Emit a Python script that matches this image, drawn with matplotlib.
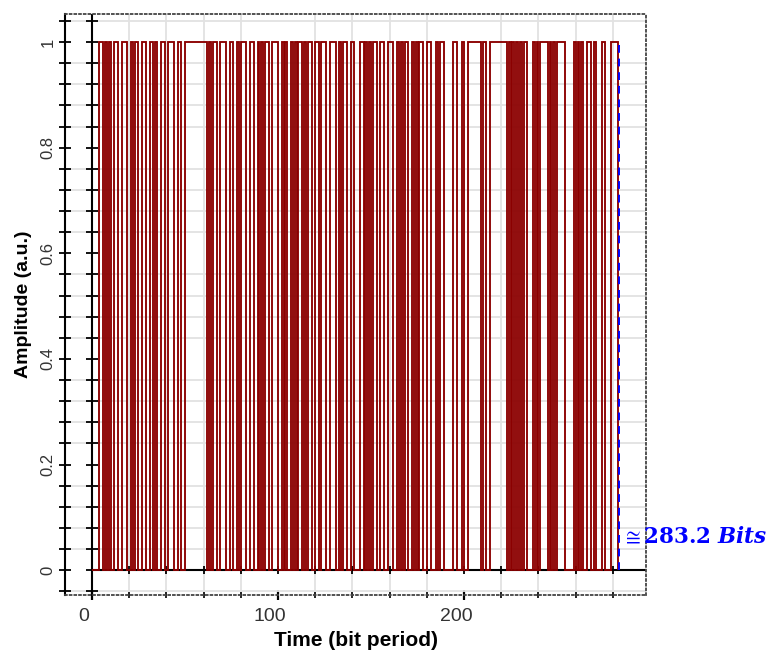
import numpy as np
import matplotlib.pyplot as plt
import matplotlib.transforms as mtransforms

plt.rcParams['font.family'] = ['Liberation Sans', 'DejaVu Sans']
plt.rcParams['mathtext.fontset'] = 'dejavuserif'

# bit sequence (one char per bit period, 283 bits)
bit_string = (
    # bits 0-49
    "0000" "110" "101" "0011" "00" "111" "00101" "100" "11" "00"
    "1101" "0011" "00" "1110" "0110" "0"
    # bits 50-61, long run of ones
    "111111111111"
    # bits 62-112
    "0101" "1001" "1100" "110" "0101" "1100" "110" "01010" "1100"
    "111" "0010" "1001" "01011"
    # bits 113-186
    "0101" "100" "1101" "1100" "1110" "0101" "1001" "1000" "11" "01010"
    "110" "0110" "0111" "001" "0101" "100" "10101" "1001" "1000" "10"
    # bits 187-282
    "110" "0000" "110" "00" "10" "0" "1111111" "0" "110" "0" "111111111"
    "0101010101" "1000" "1010" "1111" "01010" "1111" "00000" "101010"
    "0" "11" "00" "10" "00" "11" "000" "1111"
)
bits = [int(c) for c in bit_string]
bit_edges = np.arange(len(bits) + 1)
sequence_length = 283.2

x_ticks = [0, 100, 200]
x_labels = ['0', '100', '200']
y_ticks = [0, 0.2, 0.4, 0.6, 0.8, 1]
y_labels = ['0', '0.2', '0.4', '0.6', '0.8', '1']
x_minor = np.arange(0, 300, 20)
y_minor = np.arange(-0.04, 1.06, 0.04)

fig = plt.figure(figsize=(7.67, 6.55), dpi=100)
ax = fig.add_axes([65 / 767, 60 / 655, 581 / 767, 581 / 655])
ax.set_xlim(-14.5, 297.8)
ax.set_ylim(-0.047, 1.053)

# grid
ax.set_xticks(x_minor, minor=True)
ax.set_yticks(y_minor, minor=True)
ax.grid(which='minor', color='#e2e2e2', lw=1.3)
ax.set_axisbelow(True)

# spines
ax.spines['left'].set_linewidth(1.5)
ax.spines['left'].set_color('black')
for side in ['top', 'right', 'bottom']:
    ax.spines[side].set_linestyle((0, (1, 1.6)))
    ax.spines[side].set_linewidth(1.3)
    ax.spines[side].set_color('#444444')

# ticks
ax.set_xticks(x_ticks)
ax.set_xticklabels(x_labels, fontsize=14, color='#333333')
ax.set_yticks(y_ticks)
ax.set_yticklabels(y_labels, fontsize=12, color='#333333', rotation=90, va='center')
ax.tick_params(axis='x', which='major', direction='inout', length=7, width=1.6, pad=6)
ax.tick_params(axis='x', which='minor', direction='inout', length=5, width=1.2)
ax.tick_params(axis='y', which='both', direction='inout', length=8, width=1.3, pad=3)
shift = mtransforms.ScaledTranslation(-8 / 100, 0, fig.dpi_scale_trans)
for lbl in ax.get_xticklabels():
    lbl.set_transform(lbl.get_transform() + shift)

# inner axes through the origin
ax.axvline(0, color='black', lw=1.5, zorder=2)
ax.plot([0, 297.8], [0, 0], color='black', lw=1.5, zorder=2)
ax.plot(np.zeros(len(y_minor)), y_minor, ls='none', marker='_', ms=8, mew=1.3, color='black', zorder=2)
ax.plot(x_minor[1:], np.zeros(len(x_minor) - 1), ls='none', marker='|', ms=6, mew=1.3, color='black', zorder=2)

# signal
ax.stairs(bits, bit_edges, baseline=0, color='#8b0000', lw=1.35, zorder=3)

# sequence length marker
ax.plot([sequence_length, sequence_length], [0, 1], color='blue', ls=(0, (4, 3)), lw=1.4, zorder=4)
ax.text(sequence_length + 1.0, 0.062, r"$\cong\mathbf{283.2}\ \mathbfit{Bits}$",
        color='blue', fontsize=15.5, va='center', ha='left', clip_on=False)

ax.set_xlabel('Time (bit period)', fontsize=15, fontweight='bold', labelpad=4)
ax.set_ylabel('Amplitude (a.u.)', fontsize=14, fontweight='bold', labelpad=6)

fig.savefig('out.png', dpi=100)
